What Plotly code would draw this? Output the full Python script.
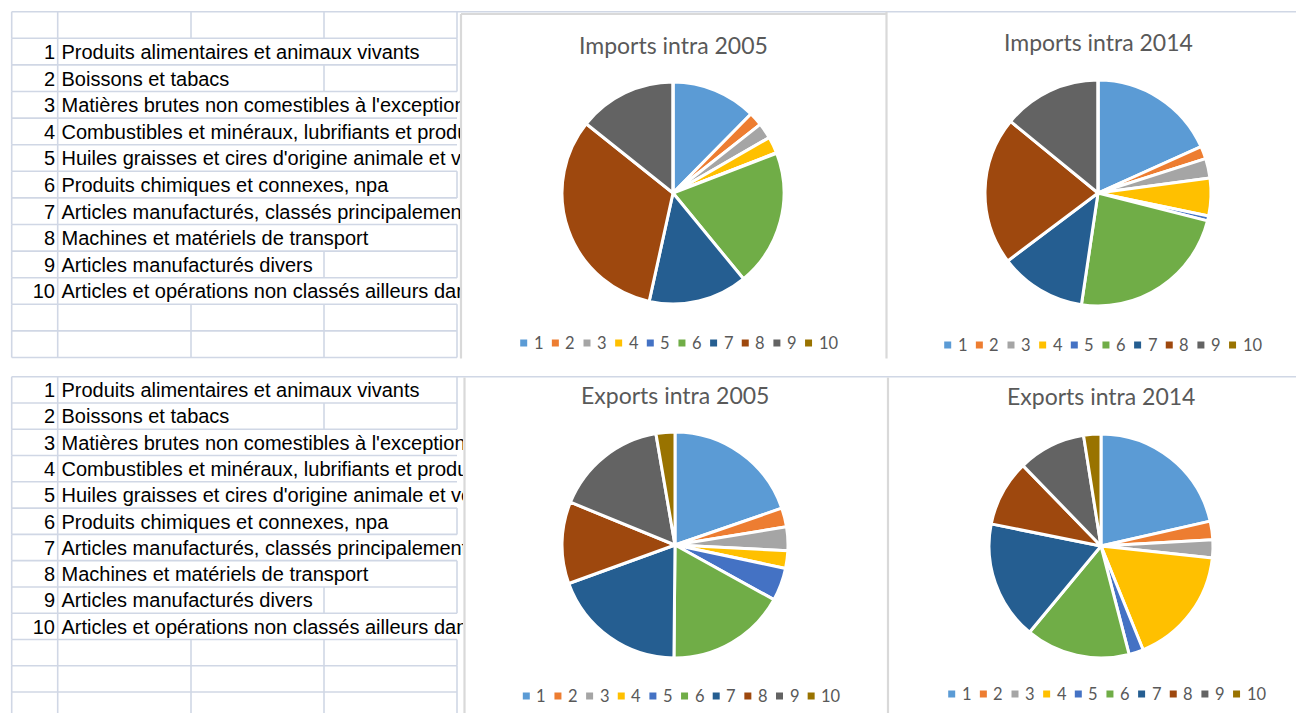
import plotly.graph_objects as go

# ---------------- data ----------------
categories = ['1', '2', '3', '4', '5', '6', '7', '8', '9', '10']
descriptions = [
    "Produits alimentaires et animaux vivants",
    "Boissons et tabacs",
    "Matières brutes non comestibles à l'exception des carburants",
    "Combustibles et minéraux, lubrifiants et produits connexes",
    "Huiles graisses et cires d'origine animale et végétale",
    "Produits chimiques et connexes, npa",
    "Articles manufacturés, classés principalement d'après la matière première",
    "Machines et matériels de transport",
    "Articles manufacturés divers",
    "Articles et opérations non classés ailleurs dans la CTCI",
]
imports_2005 = [12.4, 2.0, 2.3, 2.4, 0.1, 19.9, 14.4, 32.3, 14.3, 0.0]
imports_2014 = [18.3, 1.8, 2.8, 5.4, 0.7, 23.4, 12.4, 21.2, 14.1, 0.0]
exports_2005 = [19.7, 2.7, 3.4, 2.5, 4.7, 17.1, 19.3, 11.7, 16.1, 2.7]
exports_2014 = [21.5, 2.7, 2.6, 17.2, 2.1, 15.1, 17.2, 9.6, 9.8, 2.5]
titles = ["Imports intra 2005", "Imports intra 2014", "Exports intra 2005", "Exports intra 2014"]

# ---------------- style / layout ----------------
W, H = 1296, 713
colors = ['#5B9BD5', '#ED7D31', '#A5A5A5', '#FFC000', '#4472C4',
          '#70AD47', '#255E91', '#9E480E', '#636363', '#997300']
GRID = '#d0d7e5'
BORDER = '#d9d9d9'
TXT_FONT = 'Liberation Sans, Arial, sans-serif'
CHART_FONT = 'Lato, Calibri, sans-serif'

charts = [
    dict(title=titles[0], values=imports_2005, cx=673, cy=193, r=111, ty=45, lx=523.7, ly=343),
    dict(title=titles[1], values=imports_2014, cx=1098, cy=193, r=113, ty=42, lx=947.7, ly=345),
    dict(title=titles[2], values=exports_2005, cx=675, cy=545, r=113, ty=395, lx=526.3, ly=696),
    dict(title=titles[3], values=exports_2014, cx=1101, cy=546, r=112, ty=396, lx=951.7, ly=694),
]
LEG_STEP = 31.65

cols = [11.7, 57.7, 191, 324, 457]
top_lines = [11.7 + 26.6 * k for k in range(14)]
bot_lines = [376.7 + 26.28 * k for k in range(14)]
# right end of each description's text (for cell overflow)
text_end = [421, 233, 999, 999, 999, 393, 999, 371, 315, 999]

fig = go.Figure()
shapes = []

def hline(y, x0, x1, color=GRID, w=1.6):
    shapes.append(dict(type='line', xref='x', yref='y', x0=x0, x1=x1, y0=y, y1=y,
                       line=dict(color=color, width=w), layer='below'))

def vline(x, y0, y1, color=GRID, w=1.6):
    shapes.append(dict(type='line', xref='x', yref='y', x0=x, x1=x, y0=y0, y1=y1,
                       line=dict(color=color, width=w), layer='below'))

def grid(lines, text_rows, xaxis, yaxis):
    nrows = len(lines) - 1
    for k, y in enumerate(lines):
        hline(y, cols[0], cols[-1])
    for k in range(nrows):
        y0, y1 = lines[k], lines[k + 1]
        vline(cols[0], y0, y1)
        vline(cols[1], y0, y1)
        if k in text_rows:
            idx = text_rows.index(k)
            end = text_end[idx]
        else:
            end = 0
        for c in cols[2:]:
            if end < c:
                vline(c, y0, y1)
    ys = [(lines[k] + lines[k + 1]) / 2 + 2.3 for k in text_rows]
    fig.add_trace(go.Scatter(x=[55] * 10, y=ys, text=categories, mode='text',
                             textposition='middle left', xaxis=xaxis, yaxis=yaxis,
                             textfont=dict(family=TXT_FONT, size=20, color='black'),
                             hoverinfo='skip', showlegend=False, cliponaxis=True))
    fig.add_trace(go.Scatter(x=[61.5] * 10, y=ys, text=descriptions, mode='text',
                             textposition='middle right', xaxis=xaxis, yaxis=yaxis,
                             textfont=dict(family=TXT_FONT, size=20, color='black'),
                             hoverinfo='skip', showlegend=False, cliponaxis=True))

grid(top_lines, list(range(1, 11)), 'x2', 'y2')
grid(bot_lines, list(range(0, 10)), 'x3', 'y3')

# full-width top lines of each block
hline(top_lines[0], cols[-1], W)
hline(bot_lines[0], cols[-1], W)

# chart borders
vline(461, 14, 358.5, BORDER, 2.2)
hline(14, 461, 886, BORDER, 2.2)
vline(886.5, 11.7, 358.5, BORDER, 2.2)
vline(464.5, 377.5, H, BORDER, 2.2)
vline(888, 377.5, H, BORDER, 2.2)

annotations = []
for ch in charts:
    cx, cy, r = ch['cx'], ch['cy'], ch['r']
    fig.add_trace(go.Pie(
        labels=categories, values=ch['values'], sort=False, direction='clockwise',
        rotation=0, textinfo='none', hoverinfo='label+percent', showlegend=False,
        marker=dict(colors=colors, line=dict(color='white', width=3)),
        domain=dict(x=[(cx - r) / W, (cx + r) / W], y=[1 - (cy + r) / H, 1 - (cy - r) / H]),
    ))
    annotations.append(dict(x=cx, y=ch['ty'], xref='x', yref='y', text=ch['title'],
                            showarrow=False, xanchor='center', yanchor='middle',
                            font=dict(family=CHART_FONT, size=23, color='#595959')))
    for i, lab in enumerate(categories):
        mx = ch['lx'] + i * LEG_STEP
        ly = ch['ly']
        shapes.append(dict(type='rect', xref='x', yref='y', x0=mx - 3.5, x1=mx + 3.5,
                           y0=ly - 3.5, y1=ly + 3.5, fillcolor=colors[i],
                           line=dict(width=0), layer='above'))
        annotations.append(dict(x=mx + 8, y=ly, xref='x', yref='y', text=lab,
                                showarrow=False, xanchor='left', yanchor='middle',
                                font=dict(family=CHART_FONT, size=16.5, color='#595959')))

ax_off = dict(visible=False, showgrid=False, zeroline=False, fixedrange=True)
fig.update_layout(
    width=W, height=H, margin=dict(l=0, r=0, t=0, b=0),
    paper_bgcolor='white', plot_bgcolor='rgba(0,0,0,0)',
    shapes=shapes, annotations=annotations, showlegend=False,
    xaxis=dict(domain=[0, 1], range=[0, W], **ax_off),
    yaxis=dict(domain=[0, 1], range=[H, 0], **ax_off),
    xaxis2=dict(domain=[0, 460 / W], range=[0, 460], anchor='y2', **ax_off),
    yaxis2=dict(domain=[0, 1], range=[H, 0], anchor='x2', **ax_off),
    xaxis3=dict(domain=[0, 463 / W], range=[0, 463], anchor='y3', **ax_off),
    yaxis3=dict(domain=[0, 1], range=[H, 0], anchor='x3', **ax_off),
)

fig.write_html("out.html", config={'displayModeBar': False},
               post_script="document.body.style.margin='0';")
